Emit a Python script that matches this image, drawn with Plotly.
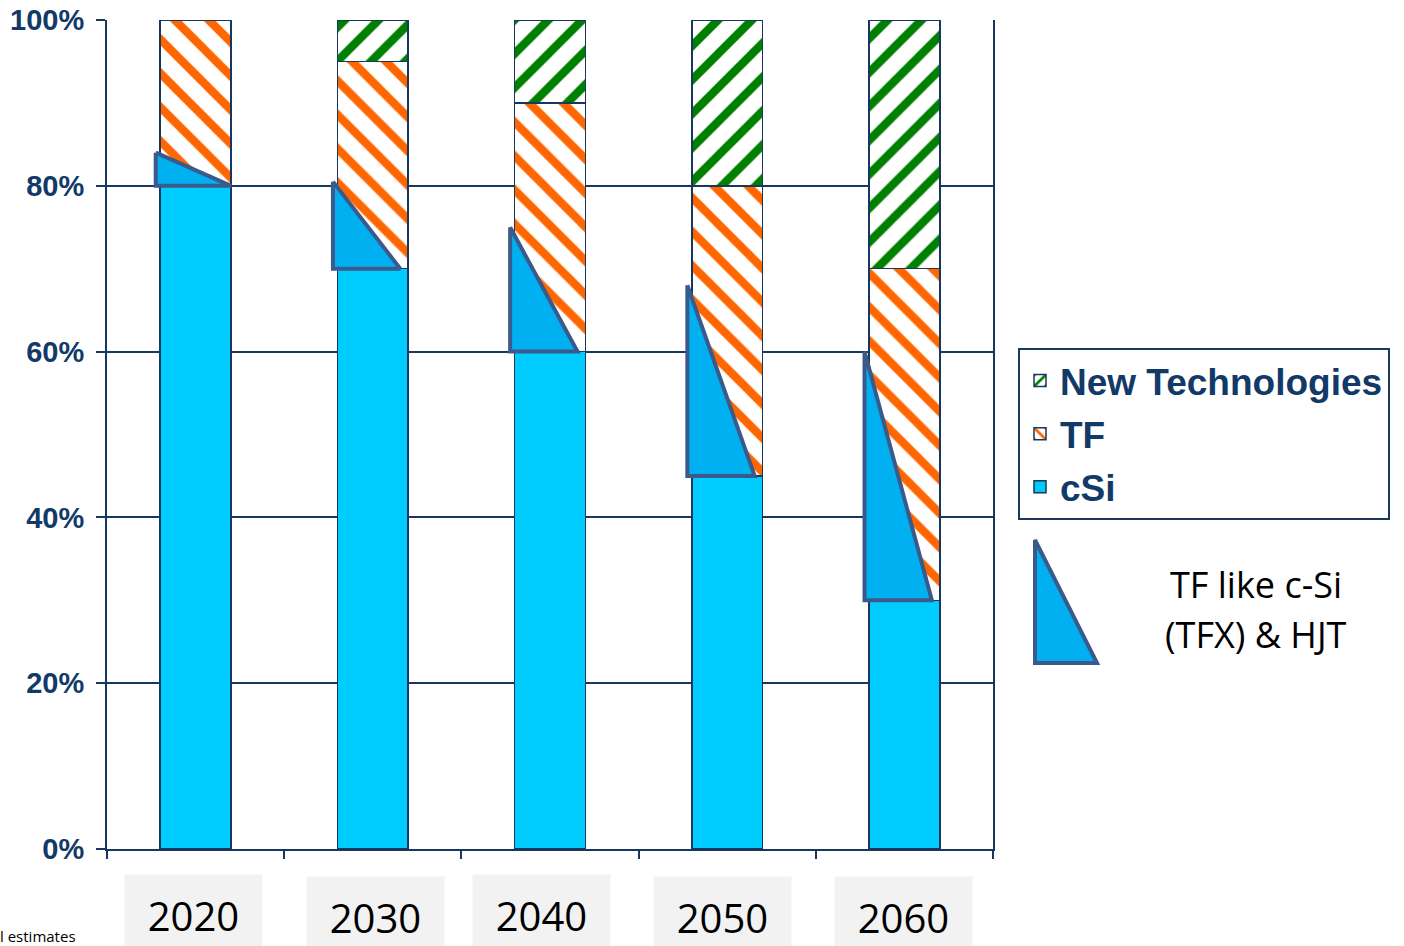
import plotly.graph_objects as go

# Market share by technology (percent of total)
years = ["2020", "2030", "2040", "2050", "2060"]
csi = [80, 70, 60, 45, 30]
tf = [20, 25, 30, 35, 40]
new_tech = [0, 5, 10, 20, 30]
# upper end of the "TF like c-Si (TFX) & HJT" wedge sitting on top of cSi
tfx_top = [84, 80.5, 75, 68, 60]

y_ticks = [0, 20, 40, 60, 80, 100]
y_tick_text = ["0%", "20%", "40%", "60%", "80%", "100%"]

W, H = 1404, 946
L, R, T, B = 107, 411, 20, 97
PW, PH = W - L - R, H - T - B

NAVY = "#17375e"
TEXT_NAVY = "#123a68"
EDGE = "#3a5a8c"


def px_x(p):
    return (p - L) / PW


def px_y(p):
    return (H - B - p) / PH


xs = list(range(len(years)))
bar_w = 0.4

fig = go.Figure()

fig.add_trace(go.Bar(
    x=xs, y=csi, name="cSi", width=bar_w, legendgroup="c", legendrank=3,
    marker=dict(color="#00ccff", line=dict(color=NAVY, width=1.5)),
))
fig.add_trace(go.Bar(
    x=xs, y=tf, name="TF", width=bar_w, legendgroup="b", legendrank=2,
    marker=dict(color="white", line=dict(color=NAVY, width=1.5),
                pattern=dict(shape="\\", fgcolor="#ff6600", bgcolor="white",
                             fgopacity=1, size=24, solidity=0.35,
                             fillmode="replace")),
))
fig.add_trace(go.Bar(
    x=xs, y=new_tech, name="New Technologies", width=bar_w, legendgroup="a",
    legendrank=1,
    marker=dict(color="white", line=dict(color=NAVY, width=1.5),
                pattern=dict(shape="/", fgcolor="#008000", bgcolor="white",
                             fgopacity=1, size=24, solidity=0.35,
                             fillmode="replace")),
))

# wedge outline offsets relative to the bar centre (axis units)
wedge_left = -0.225
wedge_right = [0.2, 0.155, 0.155, 0.155, 0.155]
for i, (lo, hi) in enumerate(zip(csi, tfx_top)):
    xl = xs[i] + wedge_left
    xr = xs[i] + wedge_right[i]
    fig.add_trace(go.Scatter(
        x=[xl, xl, xr, xl], y=[hi, lo, lo, hi], mode="lines",
        fill="toself", fillcolor="#00b0f0",
        line=dict(color=EDGE, width=4), showlegend=False, hoverinfo="skip",
        cliponaxis=False,
    ))

annotations = []
# year labels on grey tiles below the axis
label_dx = [-2, 2.5, -9, -4.5, -1]
label_top = [874, 876, 874, 876, 876]
for i, yr in enumerate(years):
    annotations.append(dict(
        x=xs[i], xref="x", xshift=label_dx[i],
        y=px_y(label_top[i]), yref="paper", yanchor="top", xanchor="center",
        text=yr, showarrow=False, bgcolor="#f2f2f2", width=137, height=80,
        borderpad=0, font=dict(family="Open Sans", size=40, color="black"),
    ))

annotations += [
    dict(x=px_x(1256), y=px_y(584), xref="paper", yref="paper",
         text="TF like c-Si", showarrow=False, xanchor="center", yanchor="middle",
         font=dict(family="Open Sans", size=36, color="black")),
    dict(x=px_x(1256), y=px_y(634), xref="paper", yref="paper",
         text="(TFX) & HJT", showarrow=False, xanchor="center", yanchor="middle",
         font=dict(family="Open Sans", size=36, color="black")),
    dict(x=px_x(-2), y=px_y(924), xref="paper", yref="paper",
         text="l estimates", showarrow=False, xanchor="left", yanchor="top",
         font=dict(family="Open Sans", size=15, color="black")),
]

# wedge symbol explained next to the legend
tri = [(1035, 540), (1035, 663), (1097, 663)]
path = "M " + " L ".join(f"{px_x(a)},{px_y(b)}" for a, b in tri) + " Z"
shapes = [dict(type="path", xref="paper", yref="paper", path=path,
               fillcolor="#00b0f0", line=dict(color=EDGE, width=4))]

fig.update_layout(
    width=W, height=H,
    margin=dict(l=L, r=R, t=T, b=B, autoexpand=False),
    barmode="stack",
    paper_bgcolor="white", plot_bgcolor="white",
    font=dict(family="Liberation Sans", color=TEXT_NAVY),
    showlegend=True,
    legend=dict(
        x=px_x(1018), y=px_y(348), xanchor="left", yanchor="top",
        traceorder="grouped", tracegroupgap=2,
        bordercolor=NAVY, borderwidth=2, bgcolor="white",
        font=dict(family="Liberation Sans", size=37, color=TEXT_NAVY, weight="bold"),
    ),
    xaxis=dict(
        range=[-0.5, 4.5], showgrid=False, zeroline=False,
        tickvals=[x - 0.5 for x in xs] + [xs[-1] + 0.5],
        showticklabels=False, ticks="outside", ticklen=8, tickwidth=2,
        tickcolor=NAVY, showline=True, linecolor=NAVY, linewidth=2,
    ),
    yaxis=dict(
        range=[0, 100], tickvals=y_ticks, ticktext=y_tick_text,
        showgrid=True, gridcolor=NAVY, gridwidth=2, zeroline=False,
        ticks="outside", ticklen=9, tickwidth=2, tickcolor=NAVY,
        showline=True, linecolor=NAVY, linewidth=2, mirror=True,
        ticklabelstandoff=6,
        tickfont=dict(family="Liberation Sans", size=29, color=TEXT_NAVY, weight="bold"),
    ),
    annotations=annotations,
    shapes=shapes,
)

fig.write_html("out.html")
